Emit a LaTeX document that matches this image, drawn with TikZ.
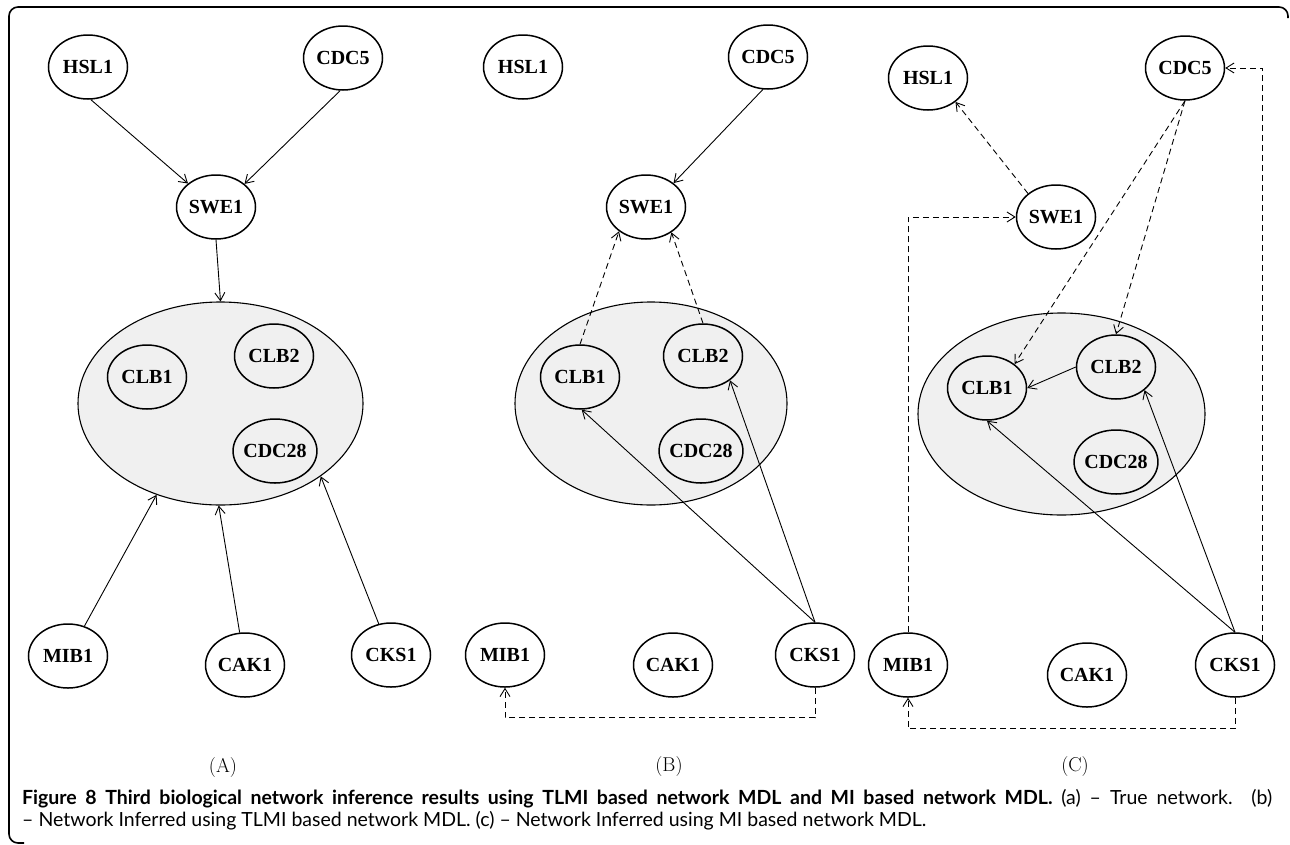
\documentclass[tikz,border=0pt]{standalone}
\usepackage{fontspec}
\usetikzlibrary{shapes.geometric,arrows.meta}
\newfontfamily\genefont{Liberation Serif}
\newfontfamily\capfont{Lato}
\begin{document}
\begin{tikzpicture}[x=1pt,y=-1pt,
  gene/.style={ellipse,draw,line width=1.5pt,minimum width=79pt,minimum height=64pt,
    inner xsep=-2pt,inner ysep=0pt,font=\genefont\bfseries\fontsize{20}{20}\selectfont},
  cluster/.style={ellipse,draw,line width=1.1pt,fill=black!6},
  link/.style={line width=0.9pt,-{Straight Barb[length=8pt,width=10pt]}},
  inferred/.style={link,dash pattern=on 6pt off 4pt},
  panellabel/.style={font=\fontsize{20}{20}\selectfont},
  captext/.style={anchor=base west,inner sep=0pt,font=\capfont\fontsize{19.5}{19.5}\selectfont}]
  \useasboundingbox (0,0) rectangle (1290,844);
  \draw[line width=1.6pt,rounded corners=9pt] (1288,18) -- (1288,7) -- (9,7) -- (9,843) -- (24,843);

  % (A) true network
  \node[cluster,minimum width=285pt,minimum height=203pt] (bigA) at (220.5,403.5) {};
  \node[gene] (hslA) at (88,67) {HSL1};
  \node[gene] (cdcA) at (343,58) {CDC5};
  \node[gene] (sweA) at (216,207) {SWE1};
  \node[gene] (clbaA) at (147,377) {CLB1};
  \node[gene] (clbbA) at (274,356) {CLB2};
  \node[gene] (cdkA) at (275,451) {CDC28};
  \node[gene] (mibA) at (68,656) {MIB1};
  \node[gene] (cakA) at (245,665) {CAK1};
  \node[gene] (cksA) at (391,655) {CKS1};
  \draw[link] (hslA.275) -- (sweA.140);
  \draw[link] (cdcA.265) -- (sweA.39);
  \draw[link] (sweA.south) -- (bigA.north);
  \draw[link] (mibA) -- (bigA.235);
  \draw[link] (cakA) -- (bigA.269);
  \draw[link] (cksA) -- (bigA.324);

  % (B) TLMI
  \node[cluster,minimum width=272pt,minimum height=203pt] (bigB) at (651,403.5) {};
  \node[gene] (hslB) at (523,67) {HSL1};
  \node[gene] (cdcB) at (768,57) {CDC5};
  \node[gene] (sweB) at (646,207) {SWE1};
  \node[gene] (clbaB) at (580,377) {CLB1};
  \node[gene] (clbbB) at (703,356) {CLB2};
  \node[gene] (cdkB) at (701,451) {CDC28};
  \node[gene] (mibB) at (505,655) {MIB1};
  \node[gene] (cakB) at (673,665) {CAK1};
  \node[gene] (cksB) at (815,655) {CKS1};
  \draw[link] (cdcB.261) -- (sweB.41);
  \draw[inferred] (clbaB.north) -- (sweB.222);
  \draw[inferred] (clbbB.north) -- (sweB.315);
  \draw[link] (cksB.north) -- (clbaB.273);
  \draw[link] (cksB.north) -- (clbbB.318);
  \draw[inferred] (cksB.south) -- ++(0,30) -| (mibB.south);

  % (C) MI
  \node[cluster,minimum width=287pt,minimum height=202pt] (bigC) at (1061.5,414) {};
  \node[gene] (hslC) at (928,78) {HSL1};
  \node[gene] (cdcC) at (1185,68) {CDC5};
  \node[gene] (sweC) at (1056,217) {SWE1};
  \node[gene] (clbaC) at (987,388) {CLB1};
  \node[gene] (clbbC) at (1116,367) {CLB2};
  \node[gene] (cdkC) at (1116,462) {CDC28};
  \node[gene] (mibC) at (908,665) {MIB1};
  \node[gene] (cakC) at (1087,675) {CAK1};
  \node[gene] (cksC) at (1235,665) {CKS1};
  \draw[inferred] (sweC.140) -- (hslC.319);
  \draw[inferred] (cdcC.south) -- (clbaC.41);
  \draw[inferred] (cdcC.south) -- (clbbC.north);
  \draw[link] (clbbC.west) -- (clbaC.east);
  \draw[link] (cksC.north) -- (clbaC.south);
  \draw[link] (cksC.north) -- (clbbC.321);
  \draw[inferred] (mibC.north) |- (sweC.west);
  \draw[inferred] (cksC.41) |- (cdcC.east);
  \draw[inferred] (cksC.south) -- ++(0,31) -| (mibC.south);

  \node[panellabel] (labA) at (223,767) {(A)};
  \node[panellabel] (labB) at (669,766) {(B)};
  \node[panellabel] (labC) at (1075,766) {(C)};

  \node[captext] (capa) at (22,804)
    {\makebox[1250pt][s]{\bfseries Figure 8 Third biological network inference results using TLMI based network MDL and MI based network MDL.\mdseries{} (a) – True network. (b)}};
  \node[captext] (capb) at (22,826)
    {– Network Inferred using TLMI based network MDL. (c) – Network Inferred using MI based network MDL.};
\end{tikzpicture}
\end{document}
